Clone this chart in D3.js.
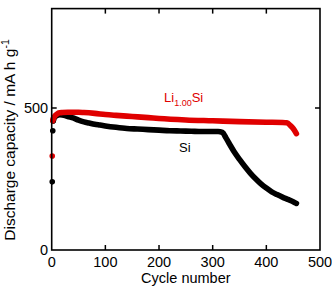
<!DOCTYPE html>
<html><head><meta charset="utf-8">
<script src="https://cdn.jsdelivr.net/npm/d3@7"></script>
<style>body{margin:0;background:#fff}svg{display:block}text{font-family:"Liberation Sans",Arial,sans-serif}</style>
</head><body><svg id="c" width="332" height="288"></svg>
<script>
const siCycles = [1,2,3,5,10,15,20,25,30,40,50,60,70,80,90,100,120,140,160,180,200,220,240,260,280,300,310,318,325,332,340,350,360,370,380,390,400,410,420,430,440,450,456];
const siValues = [240,420,455,466,474,476,475,473,470,465,457,451,447,443,440,437,432,428,426,424,422,420,419,418,417,417,417,414,394,371,346,319,294,271,251,233,218,205,195,186,178,170,164];
const liCycles = [1,2,3,5,10,15,20,30,40,50,60,80,100,120,150,180,200,250,300,350,400,430,438,445,450,456];
const liValues = [331,455,462,470,479,483,484,485,485,485,484,481,477,474,470,466,463,458,455,452,450,449,448,438,428,410];
const xTicks = [0,100,200,300,400,500];
const yTicks = [0,500];

const svg = d3.select("#c");
const x = d3.scaleLinear().domain([0,500]).range([51.7,320]);
const y = d3.scaleLinear().domain([0,850]).range([250,8.6]);

function series(cyc, val, color){
  const pts = cyc.map((c,i)=>[c,val[i]]);
  const line = d3.line().x(d=>x(d[0])).y(d=>y(d[1])).curve(d3.curveMonotoneX);
  svg.append("path").attr("d", line(pts.slice(2))).attr("fill","none")
    .attr("stroke",color).attr("stroke-width",5.6).attr("stroke-linecap","round").attr("stroke-linejoin","round");
  svg.selectAll(null).data(pts.slice(0,3)).enter().append("circle")
    .attr("cx",d=>x(d[0])).attr("cy",d=>y(d[1])).attr("r",2.8).attr("fill",color);
}
series(siCycles, siValues, "#000");
series(liCycles, liValues, "#e00000");

const g = svg.append("g");
g.append("rect").attr("x",x(0)).attr("y",y(850)).attr("width",x(500)-x(0)).attr("height",y(0)-y(850))
  .attr("fill","none").attr("stroke","#000").attr("stroke-width",1.6);
xTicks.slice(1,-1).forEach(t=>{
  g.append("line").attr("x1",x(t)).attr("x2",x(t)).attr("y1",y(0)).attr("y2",y(0)-5).attr("stroke","#000").attr("stroke-width",1.5);
  g.append("line").attr("x1",x(t)).attr("x2",x(t)).attr("y1",y(850)).attr("y2",y(850)+5).attr("stroke","#000").attr("stroke-width",1.5);
});
xTicks.forEach(t=>{
  g.append("text").attr("x",x(t)).attr("y",y(0)+17).attr("text-anchor","middle").attr("font-size",14.5).text(t);
});
yTicks.forEach(t=>{
  if(t>0){
    g.append("line").attr("x1",x(0)).attr("x2",x(0)+5).attr("y1",y(t)).attr("y2",y(t)).attr("stroke","#000").attr("stroke-width",1.5);
    g.append("line").attr("x1",x(500)).attr("x2",x(500)-5).attr("y1",y(t)).attr("y2",y(t)).attr("stroke","#000").attr("stroke-width",1.5);
  }
  g.append("text").attr("x",x(0)-3.5).attr("y",y(t)+5).attr("text-anchor","end").attr("font-size",14.5).text(t);
});
g.append("text").attr("x",(x(0)+x(500))/2).attr("y",283).attr("text-anchor","middle").attr("font-size",14.5).text("Cycle number");
const yl = g.append("text").attr("transform","translate(15,140) rotate(-90)").attr("text-anchor","middle").attr("font-size",15.5);
yl.append("tspan").text("Discharge capacity / mA h g");
yl.append("tspan").attr("font-size",10.5).attr("dy",-6).text("-1");

const lab = g.append("text").attr("x",164).attr("y",102).attr("fill","#e00000").attr("font-size",13);
lab.append("tspan").text("Li");
lab.append("tspan").attr("font-size",9).attr("dy",3.5).text("1.00");
lab.append("tspan").attr("dy",-3.5).text("Si");
g.append("text").attr("x",179).attr("y",152).attr("font-size",13).text("Si");
</script></body></html>
